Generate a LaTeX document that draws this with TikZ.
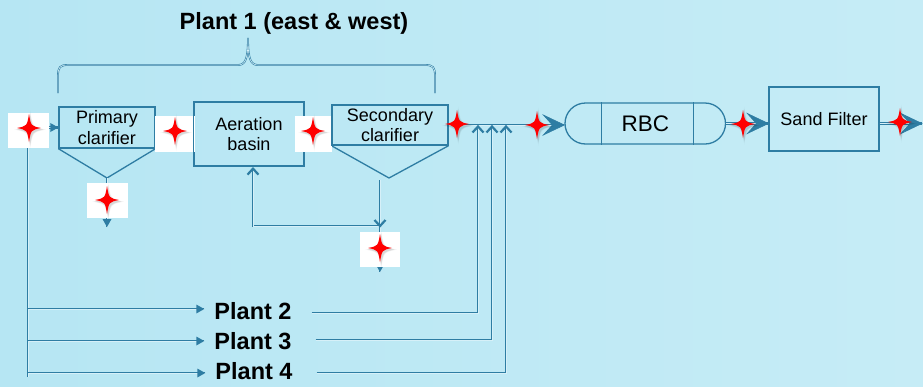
\documentclass[tikz,border=0pt]{standalone}
\usepackage{fontspec}
\setmainfont{Liberation Sans}
\usetikzlibrary{shapes.misc,calc}

\definecolor{lineblue}{HTML}{2E7DA3}
\definecolor{innerblue}{HTML}{D6F0F8}
\definecolor{bgleft}{HTML}{B6E6F3}
\definecolor{bgmid}{HTML}{F4FBFD}
\definecolor{bgright}{HTML}{C6ECF6}
\definecolor{starred}{HTML}{FF0000}

\tikzset{
  flow/.style={draw=lineblue, line width=2.4pt, postaction={draw=innerblue, line width=0.9pt}},
  box/.style={draw=lineblue, line width=1.3pt, inner sep=0pt, align=center,
              font=\fontsize{18}{20.5}\selectfont},
  starbox/.style={fill=white, inner sep=0pt},
  plant/.style={font=\bfseries\fontsize{23.5}{26}\selectfont, inner ysep=0pt, inner xsep=10pt},
  % arrowheads, all pointing along +x with the point at the origin
  bigtip/.pic={\filldraw[lineblue, line width=0.6pt, line join=miter]
      (0,0) -- (-21,-10) -- (-12,0) -- (-21,10) -- cycle;},
  smalltip/.pic={\fill[lineblue] (0,0) -- (-8,-4.5) -- (-8,4.5) -- cycle;},
  chevtip/.pic={\draw[lineblue, line width=2.2pt, line join=miter] (-6,-5.5) -- (0,0) -- (-6,5.5);},
  starshape/.style={insert path={
      (0,-14) .. controls (2,-2) .. (12,0) .. controls (2,2) .. (0,14)
      .. controls (-2,2) .. (-12,0) .. controls (-2,-2) .. cycle}},
  redstar/.pic={
    \foreach \sc/\op in {1.35/0.035,1.2/0.05,1.08/0.07}{
      \fill[black,opacity=\op,shift={(1.2,1.6)},scale=\sc,starshape];}
    \fill[starred,starshape];
  }
}

\begin{document}
\begin{tikzpicture}[x=1pt,y=-1pt]
  % background
  \useasboundingbox (0,0) rectangle (923,386);
  \shade[left color=bgleft, middle color=bgmid, right color=bgright] (0,0) rectangle (923,386);

  % title and brace
  \node[font=\bfseries\fontsize{23.5}{26}\selectfont, inner sep=0pt] (title) at (294,23) {Plant 1 (east \& west)};
  \draw[draw=lineblue, line width=1.8pt, postaction={draw=innerblue, line width=0.6pt}]
    (58,93) -- (58,76) .. controls (58,67) and (60,65) .. (68,65) -- (238,65)
    .. controls (245,65) and (248,60) .. (248,38)
    .. controls (248,60) and (251,65) .. (258,65) -- (425,65)
    .. controls (433,65) and (435,67) .. (435,76) -- (435,93);

  % process units
  \node[box, minimum width=96pt, minimum height=41pt] (pc) at (107,127.5) {Primary\\clarifier};
  \node[box, minimum width=110pt, minimum height=64pt] (ab) at (249,134) {Aeration\\basin};
  \node[box, minimum width=116pt, minimum height=40pt] (sc) at (390,125) {Secondary\\clarifier};
  \node[draw=lineblue, line width=1.3pt, rounded rectangle, rounded rectangle arc length=180,
        minimum width=160.5pt, minimum height=41pt, inner sep=0pt,
        font=\fontsize{22.5}{24}\selectfont] (rbc) at (645.25,123.5) {RBC};
  \node[box, minimum width=110pt, minimum height=64pt] (sf) at (824,119) {Sand Filter};

  \coordinate (pcv) at (107,178);
  \coordinate (scv) at (389,178);
  \draw[lineblue, line width=1.3pt] (pc.south west) -- (pcv) -- (pc.south east);
  \draw[lineblue, line width=1.3pt] (sc.south west) -- (scv) -- (sc.south east);
  \draw[lineblue, line width=1.3pt] ($(rbc.west |- rbc.north)+(37,0)$) -- ($(rbc.west |- rbc.south)+(37,0)$);
  \draw[lineblue, line width=1.3pt] ($(rbc.east |- rbc.north)+(-32.5,0)$) -- ($(rbc.east |- rbc.south)+(-32.5,0)$);

  % helper points
  \coordinate (vtop) at (28,148);
  \coordinate (vbot) at (28,377);
  \coordinate (j2) at (28,309);
  \coordinate (j3) at (28,341);
  \coordinate (j4) at (28,373);
  \coordinate (m1) at (478,126.5);
  \coordinate (m2) at (492,126.5);
  \coordinate (m3) at (506,126.5);
  \coordinate (pcout) at (107,227);
  \coordinate (scd) at (380,180);
  \coordinate (ret) at (380,226);
  \coordinate (scout) at (380,272);
  \coordinate (abin) at ($(ab.south)+(4,2)$);
  \coordinate (out) at (922,123.5);

  % plant labels
  \node[plant] (p2) at (253,311) {Plant 2};
  \node[plant] (p3) at (253,341) {Plant 3};
  \node[plant] (p4) at (254,371) {Plant 4};

  % connectors
  \draw[flow] (vtop) -- (vbot);
  \draw[flow] (28,127.5) -- (pc.west);
  \draw[flow] (pc.east) -- (pc.east -| ab.west);
  \draw[flow] (ab.east |- sc.west) -- (sc.west);
  \draw[flow] (j2) -- (j2 -| p2.west);
  \draw[flow] (j3) -- (j3 -| p3.west);
  \draw[flow] (j4) -- (j4 -| p4.west);
  \draw[flow] ([xshift=10pt,yshift=-2pt]p2.east) -| (m1);
  \draw[flow] ([xshift=14pt,yshift=1pt]p3.east) -| (m2);
  \draw[flow] ([xshift=14pt,yshift=-2pt]p4.east) -| (m3);
  \draw[flow] (sc.east) -- (sc.east -| rbc.west);
  \draw[flow] (rbc.east) -- (rbc.east -| sf.west);
  \draw[flow] (rbc.east -| sf.east) -- (out);
  \draw[flow] (pcv) -- (pcout);
  \draw[flow] (scd) -- (ret);
  \draw[flow] (ret) -| (abin);
  \draw[flow] (ret) -- (scout);

  % arrowheads
  \pic at (pc.west) {smalltip};
  \pic at (pc.east -| ab.west) {smalltip};
  \pic at (sc.west) {smalltip};
  \pic at (j2 -| p2.west) {smalltip};
  \pic at (j3 -| p3.west) {smalltip};
  \pic at (j4 -| p4.west) {smalltip};
  \pic[rotate=-90] at (pcout) {smalltip};
  \pic[rotate=-90] at (scout) {smalltip};
  \pic[rotate=-90] at (ret) {chevtip};
  \pic[rotate=90] at (abin) {chevtip};
  \pic[rotate=90] at (m1) {chevtip};
  \pic[rotate=90] at (m2) {chevtip};
  \pic[rotate=90] at (m3) {chevtip};
  \pic at (sc.east -| rbc.west) {bigtip};
  \pic at (rbc.east -| sf.west) {bigtip};
  \pic at (out) {bigtip};

  % sampling points
  \node[starbox, minimum width=41pt, minimum height=35pt] (s0) at (28.5,130.5) {};
  \node[starbox, minimum width=40pt, minimum height=36pt] (s1) at (175,134) {};
  \node[starbox, minimum width=37pt, minimum height=36pt] (s2) at (313.5,134) {};
  \node[starbox, minimum width=41pt, minimum height=35pt] (s3) at (107.5,200.5) {};
  \node[starbox, minimum width=40pt, minimum height=35pt] (s4) at (380,249.5) {};
  \draw[lineblue, line width=1.3pt] (ab.north west) -- (ab.south west);
  \draw[lineblue, line width=1.3pt] (sc.north west) -- (sc.south west);

  \pic (st0) at (29,128) {redstar};
  \pic (st1) at (175,131) {redstar};
  \pic (st2) at (313,131) {redstar};
  \pic (st3) at (107,200) {redstar};
  \pic (st4) at (380,248) {redstar};
  \pic (st5) at (457,124) {redstar};
  \pic (st6) at (537,125) {redstar};
  \pic (st7) at (743,124) {redstar};
  \pic (st8) at (900,122) {redstar};
\end{tikzpicture}
\end{document}
